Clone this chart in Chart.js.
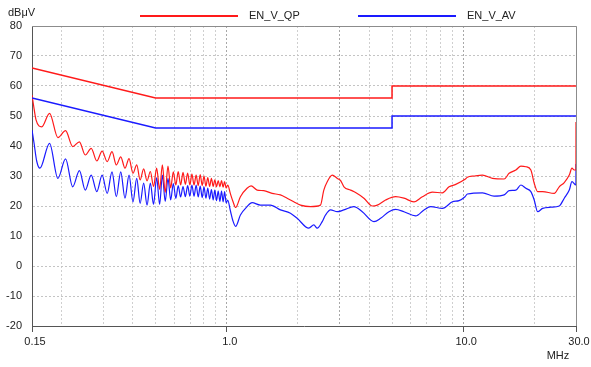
<!DOCTYPE html>
<html>
<head>
<meta charset="utf-8">
<script src="https://cdn.jsdelivr.net/npm/chart.js@4/dist/chart.umd.min.js"></script>
<style>
  html, body { margin: 0; padding: 0; background: #fff; }
  canvas { display: block; }
</style>
</head>
<body>
<canvas id="emiChart" width="591" height="367"></canvas>
<script>
/* ---------- DATA ---------- */
// limit lines (MHz / dBuV)
const qpLimitFreq  = [0.15, 0.5, 5, 5, 30];
const qpLimitLevel = [66, 56, 56, 60, 60];
const avLimitFreq  = [0.15, 0.5, 5, 5, 30];
const avLimitLevel = [56, 46, 46, 50, 50];

// measured QP trace (red)
const qpFreq = [
  0.150, 0.152, 0.156, 0.165, 0.178, 0.193, 0.208, 0.223, 0.238, 0.252,
  0.267, 0.282, 0.297, 0.312, 0.327, 0.341, 0.356, 0.371, 0.386, 0.401,
  0.416, 0.430, 0.445, 0.460, 0.475, 0.490, 0.505, 0.520, 0.534, 0.549,
  0.564, 0.579, 0.594, 0.609, 0.623, 0.638, 0.653, 0.668, 0.683, 0.698,
  0.712, 0.727, 0.742, 0.757, 0.772, 0.787, 0.801, 0.816, 0.831, 0.846,
  0.861, 0.876, 0.890, 0.905, 0.920, 0.935, 0.950, 0.965, 0.979, 0.994,
  1.009, 1.035, 1.062, 1.090, 1.142, 1.218, 1.267, 1.344, 1.433, 1.555,
  1.686, 1.800, 1.920, 2.050, 2.260, 2.490, 2.573, 2.660, 2.793, 2.933,
  3.028, 3.130, 3.339, 3.505, 3.802, 4.126, 4.331, 4.697, 5.178, 5.616,
  6.192, 6.721, 7.408, 8.169, 8.711, 9.300, 10.18, 10.42, 11.12, 12.07,
  13.30, 14.90, 15.64, 16.70, 17.54, 18.41, 19.33, 19.97, 20.64, 21.67,
  24.27, 25.48, 26.76, 28.10, 28.84, 29.49, 29.98, 30.00
];
const qpLevel = [
  57.0, 54.0, 48.7, 46.4, 50.9, 42.8, 45.1, 39.8, 41.4, 37.0,
  39.2, 35.0, 38.3, 34.8, 38.1, 33.7, 36.4, 32.6, 35.8, 30.9,
  33.7, 28.7, 32.4, 28.4, 31.5, 26.5, 32.6, 25.5, 33.7, 24.5,
  33.3, 26.0, 31.4, 27.0, 31.5, 27.0, 31.2, 27.2, 31.0, 27.0,
  30.6, 27.0, 30.3, 26.8, 30.5, 26.8, 30.0, 26.6, 29.5, 26.5,
  29.2, 26.5, 28.7, 26.4, 28.5, 26.4, 28.5, 26.3, 28.1, 26.0,
  27.0, 24.2, 21.5, 19.5, 23.1, 25.9, 26.7, 25.3, 25.1, 24.2,
  23.7, 22.6, 21.4, 20.3, 19.8, 20.3, 25.3, 28.1, 30.3, 29.2,
  28.5, 26.4, 25.3, 24.5, 22.6, 20.0, 20.3, 22.0, 23.1, 22.6,
  21.4, 23.1, 24.6, 24.4, 26.4, 27.2, 28.9, 29.6, 30.0, 30.3,
  29.2, 29.0, 30.9, 32.0, 33.3, 33.1, 32.0, 27.6, 24.8, 24.8,
  24.2, 26.4, 27.8, 30.3, 32.6, 32.0, 32.0, 48.0
];

// measured AV trace (blue)
const avFreq = [
  0.150, 0.153, 0.157, 0.162, 0.178, 0.193, 0.208, 0.223, 0.238, 0.252,
  0.267, 0.282, 0.297, 0.312, 0.327, 0.341, 0.356, 0.371, 0.386, 0.401,
  0.416, 0.430, 0.445, 0.460, 0.475, 0.490, 0.505, 0.520, 0.534, 0.549,
  0.564, 0.579, 0.594, 0.609, 0.623, 0.638, 0.653, 0.668, 0.683, 0.698,
  0.712, 0.727, 0.742, 0.757, 0.772, 0.787, 0.801, 0.816, 0.831, 0.846,
  0.861, 0.876, 0.890, 0.905, 0.920, 0.935, 0.950, 0.965, 0.979, 0.994,
  1.009, 1.035, 1.062, 1.090, 1.142, 1.218, 1.279, 1.387, 1.530, 1.686,
  1.859, 1.985, 2.223, 2.334, 2.413, 2.533, 2.616, 2.747, 2.933, 3.128,
  3.447, 3.742, 4.192, 4.474, 4.852, 5.178, 5.616, 6.295, 6.827, 7.287,
  8.169, 9.005, 9.605, 10.18, 10.42, 12.07, 13.51, 14.90, 15.64, 16.70,
  17.54, 18.41, 19.33, 19.97, 20.64, 21.67, 23.50, 25.48, 26.76, 28.10,
  28.84, 29.98, 30.00
];
const avLevel = [
  45.3, 41.0, 35.0, 32.6, 40.9, 29.2, 35.7, 26.4, 31.8, 25.3,
  30.3, 24.8, 30.3, 24.2, 31.4, 23.1, 31.4, 22.6, 30.3, 21.4,
  29.2, 20.9, 27.6, 20.3, 27.6, 20.5, 29.5, 20.5, 30.3, 21.5,
  29.2, 22.0, 27.5, 22.5, 26.8, 23.0, 26.5, 23.1, 26.8, 23.3,
  27.0, 23.3, 27.0, 23.0, 26.6, 22.8, 26.4, 22.6, 26.0, 22.3,
  25.5, 22.0, 25.3, 21.8, 25.0, 21.5, 25.0, 21.4, 24.8, 21.0,
  22.0, 18.5, 15.0, 13.2, 17.0, 19.8, 21.1, 20.3, 20.3, 18.7,
  17.6, 15.9, 12.6, 13.7, 12.6, 14.8, 17.0, 18.7, 18.1, 18.7,
  19.8, 18.1, 14.8, 15.9, 18.1, 18.9, 18.1, 16.7, 18.7, 19.8,
  19.2, 21.4, 21.8, 23.1, 24.0, 24.4, 23.3, 23.7, 25.1, 25.3,
  27.0, 25.9, 24.8, 22.0, 18.1, 19.2, 19.6, 20.0, 22.6, 25.3,
  28.1, 27.0, 34.0
];

// axis ticks
const xTickValues = [0.15, 0.2, 0.3, 0.4, 0.5, 0.6, 0.7, 0.8, 0.9,
                     1, 2, 3, 4, 5, 6, 7, 8, 9, 10, 20, 30];
const xTickLabels = { 0.15: "0.15", 1: "1.0", 10: "10.0", 30: "30.0" };
const yMin = -20, yMax = 80, yStep = 10;

const RED = "#ff1a1a";
const BLUE = "#1a1aff";
const FONT = '"Liberation Sans", Arial, sans-serif';

function toPoints(xs, ys) {
  return xs.map((x, i) => ({ x: x, y: ys[i] }));
}

/* ---------- extra labels, legend and frame ---------- */
const decorPlugin = {
  id: "decor",
  afterDraw(chart) {
    const ctx = chart.ctx;
    const a = chart.chartArea;
    ctx.save();

    // top / right frame
    ctx.strokeStyle = "#8c8c8c";
    ctx.lineWidth = 1;
    ctx.beginPath();
    ctx.moveTo(a.left, a.top + 0.5);
    ctx.lineTo(a.right + 0.5, a.top + 0.5);
    ctx.lineTo(a.right + 0.5, a.bottom);
    ctx.stroke();

    ctx.fillStyle = "#222";
    ctx.font = "11px " + FONT;
    ctx.textBaseline = "middle";
    ctx.textAlign = "left";
    ctx.fillText("dBμV", 8, 13);
    ctx.textAlign = "center";
    ctx.fillText("MHz", 558, 356);

    // legend (limit lines only)
    const items = [
      { ds: chart.data.datasets[0], x: 140 },
      { ds: chart.data.datasets[1], x: 358 }
    ];
    items.forEach(it => {
      ctx.strokeStyle = it.ds.borderColor;
      ctx.lineWidth = 2;
      ctx.beginPath();
      ctx.moveTo(it.x, 16);
      ctx.lineTo(it.x + 98, 16);
      ctx.stroke();
      ctx.fillStyle = "#222";
      ctx.textAlign = "left";
      ctx.fillText(it.ds.label, it.x + 109, 16);
    });
    ctx.restore();
  }
};

/* ---------- CHART ---------- */
const ctx = document.getElementById("emiChart").getContext("2d");

new Chart(ctx, {
  type: "line",
  data: {
    datasets: [
      {
        label: "EN_V_QP",
        data: toPoints(qpLimitFreq, qpLimitLevel),
        borderColor: RED,
        borderWidth: 1.5
      },
      {
        label: "EN_V_AV",
        data: toPoints(avLimitFreq, avLimitLevel),
        borderColor: BLUE,
        borderWidth: 1.5
      },
      {
        label: "QP",
        data: toPoints(qpFreq, qpLevel),
        borderColor: RED,
        borderWidth: 1.2,
        cubicInterpolationMode: "monotone"
      },
      {
        label: "AV",
        data: toPoints(avFreq, avLevel),
        borderColor: BLUE,
        borderWidth: 1.2,
        cubicInterpolationMode: "monotone"
      }
    ]
  },
  options: {
    responsive: false,
    animation: false,
    devicePixelRatio: 1,
    layout: { padding: { top: 26, right: 15, left: 0, bottom: 0 } },
    elements: { point: { radius: 0 }, line: { tension: 0 } },
    plugins: {
      legend: { display: false },
      tooltip: { enabled: false }
    },
    scales: {
      x: {
        type: "logarithmic",
        min: 0.15,
        max: 30,
        afterBuildTicks: s => { s.ticks = xTickValues.map(v => ({ value: v })); },
        afterFit: s => { s.height = 41; },
        ticks: {
          autoSkip: false,
          maxRotation: 0,
          padding: 3,
          labelOffset: 3,
          color: "#222",
          font: { size: 11, family: FONT },
          callback: v => xTickLabels[v] || ""
        },
        grid: {
          color: c => ([1, 3, 10].includes(c.tick && c.tick.value) ? "#a8a8a8" : "#cfcfcf"),
          drawTicks: true,
          tickLength: 6,
          tickColor: c => (xTickLabels[c.tick && c.tick.value] ? "#555" : "rgba(0,0,0,0)")
        },
        border: { color: "#555", width: 1, dash: [2, 2] }
      },
      y: {
        min: yMin,
        max: yMax,
        afterFit: s => { s.width = 32; },
        ticks: {
          stepSize: yStep,
          padding: 10,
          color: "#222",
          font: { size: 11, family: FONT }
        },
        grid: { color: "#c4c4c4", drawTicks: false },
        border: { color: "#555", width: 1, dash: [2, 2] }
      }
    }
  },
  plugins: [decorPlugin]
});
</script>
</body>
</html>
